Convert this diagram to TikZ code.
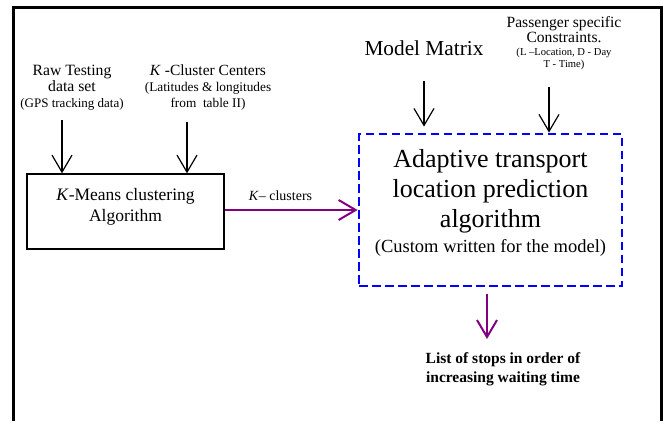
\documentclass[tikz,border=0pt]{standalone}
\usepackage{fontspec}
\setmainfont{Liberation Serif}
\usetikzlibrary{arrows.meta}
\definecolor{kpurple}{RGB}{128,0,128}
\definecolor{kblue}{RGB}{0,0,255}
\tikzset{
  txt/.style={align=center, inner sep=0pt},
  kbox/.style={draw, line width=1.4pt, minimum width=197pt, minimum height=75pt, align=center, inner sep=0pt},
  dbox/.style={draw=kblue, line width=2.8pt, dash pattern=on 8.5pt off 4.5pt, minimum width=263pt, minimum height=152pt, align=center, inner sep=0pt},
  arr/.style={-{Straight Barb[length=17pt,width=20pt]}, line width=1.2pt},
  parr/.style={arr, draw=kpurple, line width=2pt}
}
\begin{document}
\begin{tikzpicture}[x=1pt, y=-1pt]
\useasboundingbox (0,0) rectangle (663,421);
% frame, open at the bottom
\draw[line width=3pt] (13,421) -- (13,7) -- (661,7) -- (661,421);

\node[txt, font=\fontsize{15.7}{16}\selectfont] (raw) at (72,88)
  {Raw Testing\\data set\\{\fontsize{13}{15}\selectfont (GPS tracking data)}};
\node[txt, font=\fontsize{15.5}{16}\selectfont] (centers) at (208,88)
  {\textit{K} -Cluster Centers\\{\fontsize{13.3}{15}\selectfont (Latitudes \& longitudes}\\{\fontsize{13.3}{15}\selectfont from \ table II)}};
\node[txt, font=\fontsize{21.3}{24}\selectfont, anchor=base] (model) at (424,55) {Model Matrix};
\node[txt, font=\fontsize{15.6}{15}\selectfont] (pass) at (564,43)
  {Passenger specific\\Constraints.\\[-2pt]{\fontsize{10.6}{12}\selectfont (L --Location, D - Day}\\[-3pt]{\fontsize{10.6}{12}\selectfont T - Time)}};

\node[kbox, font=\fontsize{17.5}{21.7}\selectfont] (kmeans) at (125.5,211.5)
  {\textit{K}-Means clustering\\Algorithm\\[-8.7pt]\mbox{}};
\node[dbox, font=\fontsize{26}{30}\selectfont] (adapt) at (490.5,210)
  {Adaptive transport\\location prediction\\algorithm\\[-5pt]{\fontsize{18.5}{22}\selectfont (Custom written for the model)}\\[-12pt]\mbox{}};

\node[txt, font=\bfseries\fontsize{15.5}{18.5}\selectfont] (stops) at (503,369)
  {List of stops in order of\\increasing waiting time};

% inputs
\coordinate (r1) at (62,120);
\coordinate (c1) at (187,122);
\coordinate (m1) at (424,81);
\coordinate (p1) at (549,87);
\draw[arr] (r1) -- (r1 |- kmeans.north);
\draw[arr] (c1) -- (c1 |- kmeans.north);
\draw[arr] (m1) -- ([yshift=6pt]m1 |- adapt.north);
\draw[arr] (p1) -- (p1 |- adapt.north);

\draw[parr] (kmeans.east |- adapt.west) -- (adapt.west)
  node[pos=0.42, above, inner sep=0pt, yshift=8pt, font=\fontsize{14}{16}\selectfont] {\textit{K}-- clusters};

\coordinate (s1) at (487,339);
\draw[parr] ([yshift=-7pt]adapt.south -| s1) -- (s1);
\end{tikzpicture}
\end{document}
